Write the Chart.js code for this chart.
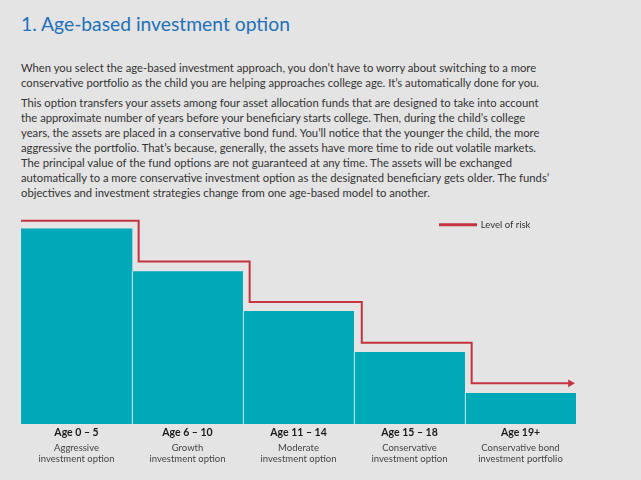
<!DOCTYPE html>
<html>
<head>
<meta charset="utf-8">
<script src="https://cdn.jsdelivr.net/npm/chart.js@4.4.1/dist/chart.umd.min.js"></script>
<style>
  html, body { margin: 0; padding: 0; }
  body {
    width: 641px; height: 480px; overflow: hidden; position: relative;
    background: #e4e4e4; font-family: Lato, 'Liberation Sans', sans-serif; color: #333;
  }
  h1 {
    position: absolute; left: 21px; top: 11px; margin: 0;
    font-weight: normal; font-size: 19.3px; line-height: 26px; color: #2170b8; white-space: nowrap;
  }
  .para {
    position: absolute; left: 21px; margin: 0;
    font-size: 11.25px; line-height: 15px; white-space: nowrap;
  }
  #p1 { top: 60px; }
  #p2 { top: 95px; }
  #wrap { position: absolute; left: 0; top: 165px; width: 641px; height: 315px; }
</style>
</head>
<body>
<h1>1. Age-based investment option</h1>
<p class="para" id="p1">When you select the age-based investment approach, you don’t have to worry about switching to a more<br>conservative portfolio as the child you are helping approaches college age. It’s automatically done for you.</p>
<p class="para" id="p2">This option transfers your assets among four asset allocation funds that are designed to take into account<br>the approximate number of years before your beneficiary starts college. Then, during the child’s college<br>years, the assets are placed in a conservative bond fund. You’ll notice that the younger the child, the more<br>aggressive the portfolio. That’s because, generally, the assets have more time to ride out volatile markets.<br>The principal value of the fund options are not guaranteed at any time. The assets will be exchanged<br>automatically to a more conservative investment option as the designated beneficiary gets older. The funds’<br>objectives and investment strategies change from one age-based model to another.</p>
<div id="wrap"><canvas id="riskChart" width="641" height="315"></canvas></div>
<script>
// categories
const ageLabels = ['Age 0 – 5', 'Age 6 – 10', 'Age 11 – 14', 'Age 15 – 18', 'Age 19+'];
const optionLabels = [
    ['Aggressive', 'investment option'],
    ['Growth', 'investment option'],
    ['Moderate', 'investment option'],
    ['Conservative', 'investment option'],
    ['Conservative bond', 'investment portfolio']
];

// bar heights and the stepped risk line (x in category units, -0.5 .. 4.5)
const barValues = [4.8, 3.76, 2.78, 1.77, 0.76];
const riskStepAt = [-0.5, 0.56, 1.56, 2.57, 3.56, 4.45];
const riskLevels = [5, 4, 3, 2, 1, 1];

const teal = '#00a9b8';
const red = '#c4343f';

Chart.defaults.font.family = "Lato, 'Liberation Sans', sans-serif";

// puts the legend at a data position inside the plot (x on 'xr', y on 'y')
const legendAnchor = {
    id: 'legendAnchor',
    afterLayout(chart, args, opts) {
        const lg = chart.legend;
        if (!lg) return;
        const half = lg.options.labels.font.size / 2;
        lg.left = chart.scales.xr.getPixelForValue(opts.x);
        lg.top = chart.scales.y.getPixelForValue(opts.y) - half;
        lg.right = chart.width;
        lg.bottom = chart.height;
    }
};

document.addEventListener('DOMContentLoaded', () => {
    const ctx = document.getElementById('riskChart').getContext('2d');
    const lastIdx = riskLevels.length - 1;

    new Chart(ctx, {
        type: 'bar',
        data: {
            labels: ageLabels,
            datasets: [
                {
                    type: 'line',
                    label: 'Level of risk',
                    data: riskStepAt.map((x, i) => ({ x: x, y: riskLevels[i] })),
                    xAxisID: 'xr',
                    stepped: 'before',
                    borderColor: red,
                    backgroundColor: red,
                    borderWidth: 2,
                    pointRadius: c => c.dataIndex === lastIdx ? 4.5 : 0,
                    pointStyle: 'triangle',
                    pointRotation: 90,
                    pointBackgroundColor: red,
                    pointBorderWidth: 0,
                    clip: false,
                    order: 0
                },
                {
                    type: 'bar',
                    label: 'Allocation',
                    data: barValues,
                    xAxisID: 'x',
                    grouped: false,
                    backgroundColor: teal,
                    borderColor: '#ffffff',
                    borderWidth: c => c.dataIndex === 0 ? 0 : { left: 1, right: 0, top: 0, bottom: 0 },
                    borderSkipped: false,
                    barPercentage: 1,
                    categoryPercentage: 1,
                    order: 1
                }
            ]
        },
        options: {
            responsive: false,
            animation: false,
            layout: { padding: { left: 21, right: 65, top: 11, bottom: 0 } },
            plugins: {
                tooltip: { enabled: false },
                legendAnchor: { x: 3.266, y: 4.9 },
                legend: {
                    position: 'chartArea',
                    align: 'start',
                    labels: {
                        filter: item => item.text === 'Level of risk',
                        boxWidth: 37,
                        boxHeight: 1,
                        padding: 0,
                        color: '#333',
                        font: { size: 9.5 }
                    }
                }
            },
            scales: {
                y: { min: 0, max: 6.1, display: false },
                xr: { type: 'linear', min: -0.5, max: 4.5, offset: false, display: false },
                x: {
                    type: 'category',
                    position: 'bottom',
                    weight: 0,
                    grid: { display: false, drawTicks: false },
                    border: { display: false },
                    ticks: {
                        color: '#1a1a1a',
                        font: { size: 10.5, weight: 'bold' },
                        padding: 2,
                        maxRotation: 0,
                        autoSkip: false
                    },
                    afterFit: scale => { scale.height = 17; }
                },
                x2: {
                    type: 'category',
                    position: 'bottom',
                    weight: 1,
                    labels: optionLabels,
                    offset: true,
                    grid: { display: false, drawTicks: false },
                    border: { display: false },
                    ticks: {
                        color: '#444',
                        font: { size: 9.5, lineHeight: 1.19 },
                        padding: 1,
                        maxRotation: 0,
                        autoSkip: false
                    },
                    afterFit: scale => { scale.height = 39; }
                }
            }
        },
        plugins: [legendAnchor]
    });
});
</script>
</body>
</html>
